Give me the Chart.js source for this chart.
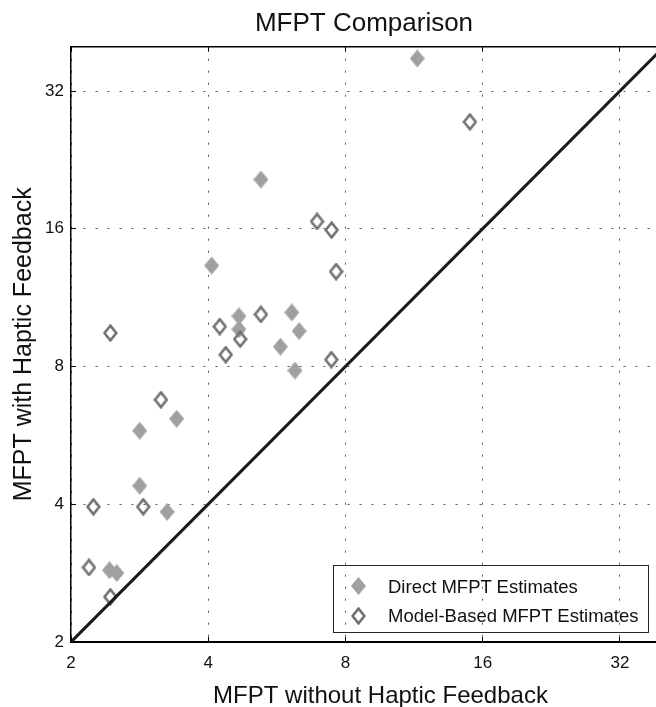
<!DOCTYPE html>
<html lang="en">
<head>
<meta charset="UTF-8">
<title>MFPT Comparison</title>
<script src="https://cdn.jsdelivr.net/npm/chart.js@4.4.1/dist/chart.umd.min.js"></script>
<style>
  html, body { margin: 0; padding: 0; background: #fff; overflow: hidden; }
  .wrap { position: relative; width: 728px; height: 707px; }
  #grafico { position: absolute; left: 0; top: 0; }
  .legenda {
    position: absolute; left: 333px; top: 565px; width: 314px; height: 66px;
    border: 1px solid #262626;
    font-family: 'Liberation Sans', Arial, sans-serif; font-size: 18.5px; color: #111;
  }
  .legenda .mk { position: absolute; left: 17px; }
  .legenda .tx { position: absolute; left: 54px; line-height: 20px; white-space: nowrap; }
</style>
</head>
<body>
<div class="wrap">
  <canvas id="grafico" width="728" height="707"></canvas>
  <div class="legenda">
    <svg class="mk" style="top:11px" width="15" height="18" viewBox="0 0 15 18">
      <polygon points="7.5,0 15,9 7.5,18 0,9" fill="#a0a0a0"></polygon>
    </svg>
    <span class="tx" style="top:11px">Direct MFPT Estimates</span>
    <svg class="mk" style="top:41px" width="15" height="18" viewBox="0 0 15 18">
      <polygon points="7.5,1.6 13.4,9 7.5,16.4 1.6,9" fill="none" stroke="#707070" stroke-width="2.5"></polygon>
    </svg>
    <span class="tx" style="top:40px">Model-Based MFPT Estimates</span>
  </div>
</div>

<script>
  // valores (escala log2 nos dois eixos)
  const valoresTicks = [2, 4, 8, 16, 32];
  const limiteX = [2, 45.6];
  const limiteY = [2, 40];

  const diretoX = [11.5, 5.22, 4.07, 4.67, 4.67, 6.10, 6.33, 5.76, 6.20, 2.83, 3.41, 2.83, 3.25, 2.43, 2.52];
  const diretoY = [37.7, 20.5, 13.3, 10.3, 9.65, 10.5, 9.56, 8.84, 7.84, 5.79, 6.15, 4.39, 3.85, 2.87, 2.83];

  const modeloX = [15.0, 6.93, 7.46, 7.63, 5.22, 4.24, 4.70, 4.37, 7.45, 2.44, 3.15, 2.24, 2.88, 2.19, 2.44];
  const modeloY = [27.4, 16.6, 15.9, 12.9, 10.4, 9.78, 9.18, 8.49, 8.28, 9.47, 6.77, 3.95, 3.95, 2.91, 2.51];

  // linha de referencia y = x
  const linhaX = [2, 64];
  const linhaY = [2, 64];

  function pares(xs, ys) {
    return xs.map((v, i) => ({ x: v, y: ys[i] }));
  }

  function losango(cheio) {
    const c = document.createElement('canvas');
    c.width = 15;
    c.height = 18;
    const ctx = c.getContext('2d');
    ctx.beginPath();
    if (cheio) {
      ctx.moveTo(7.5, 0); ctx.lineTo(15, 9); ctx.lineTo(7.5, 18); ctx.lineTo(0, 9);
      ctx.closePath();
      ctx.fillStyle = '#a0a0a0';
      ctx.fill();
    } else {
      ctx.moveTo(7.5, 1.6); ctx.lineTo(13.4, 9); ctx.lineTo(7.5, 16.4); ctx.lineTo(1.6, 9);
      ctx.closePath();
      ctx.strokeStyle = '#707070';
      ctx.lineWidth = 2.5;
      ctx.lineJoin = 'miter';
      ctx.stroke();
    }
    return c;
  }

  function fixarTicks(scale) {
    scale.ticks = valoresTicks.map(v => ({ value: v }));
  }

  Chart.defaults.font.family = "'Liberation Sans', Arial, sans-serif";
  Chart.defaults.color = '#111';

  const gradeBase = { color: '#555', lineWidth: 1, tickLength: -5, tickColor: '#000', tickWidth: 1 };

  const config = {
    type: 'scatter',
    data: {
      datasets: [
        {
          label: 'y = x',
          data: pares(linhaX, linhaY),
          showLine: true,
          borderColor: '#1a1a1a',
          borderWidth: 3,
          pointRadius: 0,
          order: -1
        },
        {
          label: 'Direct MFPT Estimates',
          data: pares(diretoX, diretoY),
          pointStyle: losango(true),
          pointRadius: 8,
          order: 2
        },
        {
          label: 'Model-Based MFPT Estimates',
          data: pares(modeloX, modeloY),
          pointStyle: losango(false),
          pointRadius: 8,
          order: 1
        }
      ]
    },
    options: {
      responsive: false,
      animation: false,
      layout: { padding: 0 },
      plugins: {
        legend: { display: false },
        tooltip: { enabled: false },
        title: {
          display: true,
          text: 'MFPT Comparison',
          color: '#111',
          font: { size: 26, weight: 'normal', lineHeight: 1.2 },
          padding: { top: 8, bottom: 7.5 }
        }
      },
      scales: {
        x: {
          type: 'logarithmic',
          position: 'bottom',
          min: limiteX[0],
          max: limiteX[1],
          afterBuildTicks: fixarTicks,
          afterFit: (s) => { s.height = 65; },
          ticks: { autoSkip: false, maxRotation: 0, padding: 16, color: '#111', font: { size: 17 }, callback: (v) => String(v) },
          grid: gradeBase,
          border: { display: true, color: '#000', width: 2, dash: [2, 10] },
          title: {
            display: true,
            text: 'MFPT without Haptic Feedback',
            color: '#111',
            font: { size: 24, lineHeight: 1 },
            padding: { top: 0, bottom: -1 }
          }
        },
        x2: {
          type: 'logarithmic',
          position: 'top',
          min: limiteX[0],
          max: limiteX[1],
          afterBuildTicks: fixarTicks,
          afterFit: (s) => { s.height = 0; },
          ticks: { display: false },
          grid: Object.assign({}, gradeBase, { drawOnChartArea: false }),
          border: { display: true, color: '#000', width: 1.5 }
        },
        y: {
          type: 'logarithmic',
          position: 'left',
          min: limiteY[0],
          max: limiteY[1],
          afterBuildTicks: fixarTicks,
          afterFit: (s) => { s.width = 71; },
          ticks: { autoSkip: false, padding: 12, color: '#111', font: { size: 17 }, callback: (v) => String(v) },
          grid: gradeBase,
          border: { display: true, color: '#000', width: 1.5, dash: [2, 10] },
          title: {
            display: true,
            text: 'MFPT with Haptic Feedback',
            color: '#111',
            font: { size: 25, lineHeight: 1 },
            padding: { top: 12, bottom: 0 }
          }
        },
        y2: {
          type: 'logarithmic',
          position: 'right',
          min: limiteY[0],
          max: limiteY[1],
          afterBuildTicks: fixarTicks,
          afterFit: (s) => { s.width = 38; },
          ticks: { display: false },
          grid: Object.assign({}, gradeBase, { drawOnChartArea: false }),
          border: { display: true, color: '#000', width: 1.5 }
        }
      }
    }
  };

  const grafico = new Chart(document.getElementById('grafico'), config);
</script>
</body>
</html>
